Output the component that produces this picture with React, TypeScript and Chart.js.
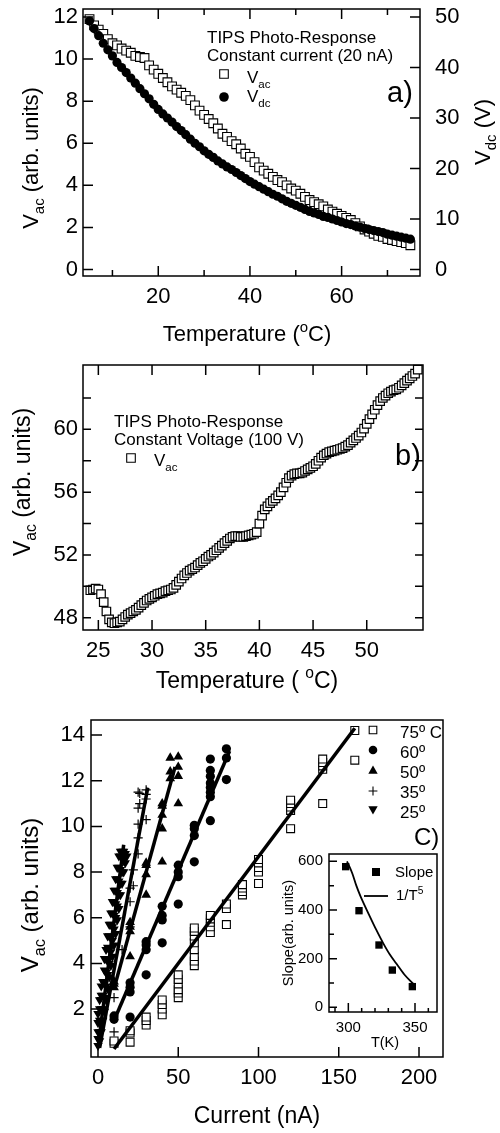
import React, { useEffect, useRef } from "react";
import { Chart, registerables } from "chart.js";

Chart.register(...registerables);

const FONT = "'Liberation Sans', Arial, Helvetica, sans-serif";
Chart.defaults.font.family = FONT;
Chart.defaults.color = "#000";

// ---------------- Panel a : constant current ----------------
const tempA = [5,6,7,8,9,10,11,12,13,14,15,16,17,18,19,20,21,22,23,24,25,26,27,28,29,30,31,32,33,34,35,36,37,38,39,40,41,42,43,44,45,46,47,48,49,50,51,52,53,54,55,56,57,58,59,60,61,62,63,64,65,66,67,68,69,70,71,72,73,74,75];
const vacA = [11.9,11.6,11.4,11.2,10.95,10.75,10.65,10.5,10.4,10.3,10.15,10.1,10.05,9.7,9.5,9.3,9.1,8.9,8.7,8.55,8.4,8.25,8.05,7.8,7.55,7.35,7.15,6.95,6.7,6.45,6.3,6.1,5.95,5.75,5.5,5.35,5.1,4.85,4.7,4.55,4.4,4.25,4.15,4.0,3.85,3.75,3.6,3.45,3.3,3.2,3.1,3.0,2.85,2.75,2.65,2.55,2.45,2.35,2.2,2.05,1.9,1.8,1.7,1.6,1.55,1.45,1.4,1.35,1.3,1.25,1.15];
const vdcA = [49.2,47.7,46.3,44.8,43.5,42.3,41.0,40.0,39.0,37.9,36.9,35.8,34.8,33.8,32.7,31.7,30.8,30.0,29.2,28.3,27.5,26.7,25.8,25.0,24.3,23.5,22.8,22.2,21.5,20.9,20.3,19.8,19.2,18.6,18.0,17.4,16.9,16.4,15.9,15.4,14.9,14.5,14.0,13.5,13.1,12.7,12.3,11.9,11.5,11.2,10.9,10.5,10.3,10.0,9.7,9.4,9.1,8.9,8.6,8.4,8.1,7.9,7.7,7.5,7.3,7.0,6.8,6.6,6.4,6.2,6.0];
const aXTicks = [20, 40, 60];
const aXMinor = [10, 30, 50, 70];
const aYTicks = [0, 2, 4, 6, 8, 10, 12];
const aY2Ticks = [0, 10, 20, 30, 40, 50];

// ---------------- Panel b : constant voltage ----------------
const tempB = [24.25,24.5,24.75,25,25.25,25.5,25.75,26,26.25,26.5,26.75,27,27.25,27.5,27.75,28,28.25,28.5,28.75,29,29.25,29.5,29.75,30,30.25,30.5,30.75,31,31.25,31.5,31.75,32,32.25,32.5,32.75,33,33.25,33.5,33.75,34,34.25,34.5,34.75,35,35.25,35.5,35.75,36,36.25,36.5,36.75,37,37.25,37.5,37.75,38,38.25,38.5,38.75,39,39.25,39.5,39.75,40,40.25,40.5,40.75,41,41.25,41.5,41.75,42,42.25,42.5,42.75,43,43.25,43.5,43.75,44,44.25,44.5,44.75,45,45.25,45.5,45.75,46,46.25,46.5,46.75,47,47.25,47.5,47.75,48,48.25,48.5,48.75,49,49.25,49.5,49.75,50,50.25,50.5,50.75,51,51.25,51.5,51.75,52,52.25,52.5,52.75,53,53.25,53.5,53.75,54,54.25,54.5,54.75];
const vacB = [49.75,49.8,49.85,49.8,49.5,49.0,48.4,47.9,47.7,47.65,47.7,47.75,47.9,48.05,48.2,48.3,48.4,48.5,48.65,48.8,48.95,49.1,49.2,49.3,49.4,49.5,49.55,49.6,49.7,49.75,49.8,49.9,50.1,50.3,50.5,50.7,50.85,51.0,51.1,51.2,51.35,51.5,51.6,51.75,51.9,52.0,52.15,52.3,52.45,52.6,52.75,52.9,53.05,53.15,53.2,53.2,53.15,53.15,53.2,53.25,53.3,53.35,53.45,54.0,54.5,54.9,55.1,55.3,55.45,55.6,55.8,56.0,56.3,56.6,56.9,57.05,57.15,57.2,57.2,57.25,57.35,57.45,57.55,57.65,57.8,58.0,58.2,58.35,58.45,58.55,58.6,58.65,58.7,58.75,58.8,58.9,59.0,59.15,59.3,59.45,59.6,59.8,60.05,60.35,60.65,60.95,61.25,61.55,61.8,62.0,62.15,62.3,62.4,62.5,62.55,62.65,62.8,62.95,63.1,63.25,63.4,63.55,63.8];
const bXTicks = [25, 30, 35, 40, 45, 50];
const bYTicks = [48, 52, 56, 60];
const bYMarks = [48, 50, 52, 54, 56, 58, 60, 62];

// ---------------- Panel c : V vs current ----------------
const c75I = [10,10,20,20,20,30,30,30,40,40,40,40,50,50,50,50,50,50,60,60,60,60,60,60,60,60,70,70,70,70,70,80,80,80,90,90,90,90,100,100,100,100,100,120,120,120,120,120,140,140,140,140,140,160,160];
const c75V = [0.5,0.6,0.55,0.95,1.05,1.3,1.5,1.65,1.75,2.0,2.2,2.4,2.5,2.7,2.85,3.1,3.3,3.5,3.9,4.1,4.3,4.6,4.9,5.2,5.4,5.55,5.35,5.6,5.8,5.95,6.1,5.7,6.4,6.6,7.0,7.15,7.3,7.45,7.5,8.0,8.2,8.4,8.55,9.9,10.7,10.85,11.0,11.15,11.0,12.5,12.65,12.8,12.95,12.9,14.2];
const c60I = [10,10,20,20,20,20,30,30,30,30,40,40,40,40,50,50,50,50,60,60,60,60,70,70,70,70,70,70,70,70,80,80,80];
const c60V = [1.55,1.7,1.65,2.75,2.95,3.15,3.5,4.6,4.8,4.95,4.9,5.9,6.1,6.5,6.6,7.8,8.0,8.3,8.45,9.6,9.9,10.05,10.25,11.3,11.5,11.7,11.9,12.2,12.45,12.95,12.05,13.0,13.4];
const c50I = [10,10,10,20,20,20,20,30,30,30,30,40,40,40,40,40,45,45,45,50,50,50,50];
const c50V = [2.95,3.1,3.2,4.3,5.4,5.6,5.8,7.0,7.9,8.3,8.4,8.45,9.9,10.5,10.9,11.0,12.1,12.4,13.0,11.0,12.2,12.6,13.05];
const c35I = [2,10,10,15,20,20,20,22,22,25,25,25,25,25,26,26,30,30,30,30];
const c35V = [2.5,1.0,2.5,4.6,5.6,6.7,7.3,7.4,8.1,8.8,9.5,10.1,10.8,11.5,11.0,11.45,10.3,11.2,11.4,11.6];
const c25I = [0,0,0,0,0,1,1,1,1,1,2,2,2,2,2,3,3,3,3,4,4,4,4,4,5,5,5,5,5,6,6,6,6,6,7,7,7,7,7,8,8,8,8,8,9,9,9,9,9,10,10,10,10,10,11,11,11,11,11,12,12,12,12,12,13,13,13,13,13,14,14,14,14,14,15,15,15,15,16,16,16,17,17,18];
const c25V = [0.4,0.7,1.0,1.4,1.8,0.6,1.0,1.5,2.0,2.4,1.0,1.5,2.0,2.6,3.0,1.5,2.0,2.6,3.2,1.9,2.5,3.1,3.7,4.2,2.4,3.0,3.6,4.2,4.6,2.9,3.5,4.1,4.7,5.2,3.4,4.0,4.6,5.2,5.7,3.9,4.5,5.1,5.7,6.2,4.3,5.0,5.6,6.2,6.7,4.8,5.5,6.1,6.7,7.2,5.3,6.0,6.6,7.2,7.7,5.9,6.5,7.1,7.7,8.2,6.4,7.0,7.6,8.2,8.7,7.0,7.5,8.1,8.7,8.9,7.5,8.0,8.6,8.9,8.0,8.5,8.9,8.4,8.8,8.7];
const fit75I = [10, 160];
const fit75V = [0.25, 14.3];
const fit60I = [10, 82];
const fit60V = [1.5, 13.3];
const fit50I = [10, 48];
const fit50V = [2.9, 12.6];
const fit35I = [1, 31];
const fit35V = [0.3, 11.7];
const fit25I = [0, 16];
const fit25V = [0.3, 9.2];
const cXTicks = [0, 50, 100, 150, 200];
const cYTicks = [2, 4, 6, 8, 10, 12, 14];
const cLegend = ["75º C", "60º", "50º", "35º", "25º"];

// ---------------- Inset ----------------
const insetT = [298, 308, 323, 333, 348];
const insetSlope = [578, 397, 256, 153, 85];
const curveT = [299, 303, 306, 309, 316, 321, 326, 331, 336, 342, 349];
const curveS = [600, 550, 500, 458, 375, 318, 265, 218, 180, 135, 95];
const iXTicks = [300, 350];
const iXMinor = [290, 310, 320, 330, 340, 360];
const iYTicks = [0, 200, 400, 600];
const iYMinor = [100, 300, 500];

// ---------------- helpers ----------------
const pts = (xs: number[], ys: number[]) => xs.map((x, i) => ({ x, y: ys[i] }));
const ROT = -Math.PI / 2;

type Seg = { t: string; m?: number };

function drawRich(ctx: any, it: any) {
  const { segs, x, y, size } = it;
  const align = it.align || "left";
  ctx.save();
  ctx.translate(x, y);
  if (it.rot) ctx.rotate(it.rot);
  ctx.fillStyle = "#000";
  ctx.textBaseline = "alphabetic";
  ctx.textAlign = "left";
  const parts = segs.map((s: Seg) => {
    const fs = s.m ? size * 0.68 : size;
    ctx.font = `${fs}px ${FONT}`;
    return { ...s, fs, w: ctx.measureText(s.t).width };
  });
  const total = parts.reduce((a: number, p: any) => a + p.w, 0);
  let cx = align === "center" ? -total / 2 : align === "right" ? -total : 0;
  for (const p of parts) {
    ctx.font = `${p.fs}px ${FONT}`;
    const dy = p.m === 1 ? size * 0.28 : p.m === 2 ? -size * 0.42 : 0;
    ctx.fillText(p.t, cx, dy);
    cx += p.w;
  }
  ctx.restore();
}

function drawSym(ctx: any, s: any) {
  const { kind, x, y, r } = s;
  ctx.save();
  ctx.strokeStyle = "#000";
  ctx.fillStyle = "#000";
  ctx.lineWidth = 1.1;
  ctx.beginPath();
  if (kind === "sqOpen") {
    ctx.fillStyle = "#fff";
    ctx.rect(x - r, y - r, 2 * r, 2 * r);
    ctx.fill();
    ctx.stroke();
  } else if (kind === "sqFill") {
    ctx.rect(x - r, y - r, 2 * r, 2 * r);
    ctx.fill();
  } else if (kind === "circle") {
    ctx.arc(x, y, r, 0, Math.PI * 2);
    ctx.fill();
  } else if (kind === "triUp") {
    ctx.moveTo(x, y - r);
    ctx.lineTo(x + 0.866 * r, y + 0.5 * r);
    ctx.lineTo(x - 0.866 * r, y + 0.5 * r);
    ctx.closePath();
    ctx.fill();
  } else if (kind === "triDown") {
    ctx.moveTo(x, y + r);
    ctx.lineTo(x + 0.866 * r, y - 0.5 * r);
    ctx.lineTo(x - 0.866 * r, y - 0.5 * r);
    ctx.closePath();
    ctx.fill();
  } else if (kind === "cross") {
    ctx.moveTo(x - r, y);
    ctx.lineTo(x + r, y);
    ctx.moveTo(x, y - r);
    ctx.lineTo(x, y + r);
    ctx.stroke();
  } else if (kind === "line") {
    ctx.lineWidth = 1.8;
    ctx.moveTo(x - r, y);
    ctx.lineTo(x + r, y);
    ctx.stroke();
  }
  ctx.restore();
}

function decor(opts: any) {
  return {
    id: "decor",
    beforeDraw(chart: any) {
      if (!opts.bg) return;
      const { ctx, chartArea: a } = chart;
      ctx.save();
      ctx.fillStyle = "#fff";
      ctx.fillRect(a.left, a.top, a.right - a.left, a.bottom - a.top);
      ctx.restore();
    },
    afterDatasetsDraw(chart: any) {
      const { ctx, chartArea: a } = chart;
      ctx.save();
      ctx.strokeStyle = "#000";
      ctx.lineWidth = opts.lw || 1.5;
      ctx.strokeRect(a.left, a.top, a.right - a.left, a.bottom - a.top);
      for (const t of opts.ticks) {
        const sc = chart.scales[t.scale];
        ctx.beginPath();
        for (const v of t.values) {
          const p = sc.getPixelForValue(v);
          if (t.side === "bottom") { ctx.moveTo(p, a.bottom); ctx.lineTo(p, a.bottom - t.len); }
          else if (t.side === "top") { ctx.moveTo(p, a.top); ctx.lineTo(p, a.top + t.len); }
          else if (t.side === "left") { ctx.moveTo(a.left, p); ctx.lineTo(a.left + t.len, p); }
          else { ctx.moveTo(a.right, p); ctx.lineTo(a.right - t.len, p); }
        }
        ctx.stroke();
      }
      ctx.restore();
    },
    afterDraw(chart: any) {
      const ctx = chart.ctx;
      for (const s of opts.syms || []) drawSym(ctx, s);
      for (const t of opts.texts || []) drawRich(ctx, t);
    },
  };
}

function axis(min: number, max: number, ticks: number[], font: number, padding: number, position: string, size: number) {
  const horizontal = position === "top" || position === "bottom";
  return {
    type: "linear",
    position,
    min,
    max,
    grid: { display: false, drawTicks: false },
    border: { display: false },
    ticks: { font: { family: FONT, size: font }, color: "#000", padding, autoSkip: false, maxRotation: 0, minRotation: 0 },
    afterBuildTicks: (s: any) => { s.ticks = ticks.map((v) => ({ value: v })); },
    afterFit: (s: any) => {
      if (horizontal) s.height = size; else s.width = size;
      s.paddingLeft = 0; s.paddingRight = 0; s.paddingTop = 0; s.paddingBottom = 0;
    },
  };
}

function baseOptions(pad: any, scales: any) {
  return {
    responsive: false,
    maintainAspectRatio: false,
    animation: false,
    events: [],
    layout: { padding: pad, autoPadding: false },
    plugins: { legend: { display: false }, tooltip: { enabled: false } },
    scales,
  };
}

const W = 500;
const H = 1133;

function configA(): any {
  const L = 83, R = 420, T = 9, B = 276;
  const yMin = -0.31, yMax = 12.38;
  return {
    type: "scatter",
    data: {
      datasets: [
        { data: pts(tempA, vdcA), yAxisID: "y2", pointStyle: "circle", pointRadius: 4.6, backgroundColor: "#000", borderColor: "#000", borderWidth: 0, clip: false },
        { data: pts(tempA, vacA), yAxisID: "y", pointStyle: "rect", pointRadius: 6.2, backgroundColor: "#fff", borderColor: "#000", borderWidth: 1.1, clip: false },
      ],
    },
    options: baseOptions({ top: T, left: 0, right: 0, bottom: 0 }, {
      x: axis(3.58, 77.1, aXTicks, 22, 7.3, "bottom", H - B),
      y: axis(yMin, yMax, aYTicks, 22, 5, "left", L),
      y2: axis(yMin * 50 / 12, yMax * 50 / 12, aY2Ticks, 22, 15, "right", W - R),
    }),
    plugins: [decor({
      ticks: [
        { scale: "x", side: "bottom", values: aXTicks, len: 10 },
        { scale: "x", side: "bottom", values: aXMinor, len: 6 },
        { scale: "x", side: "top", values: aXTicks, len: 10 },
        { scale: "x", side: "top", values: aXMinor, len: 6 },
        { scale: "y", side: "left", values: aYTicks, len: 10 },
        { scale: "y2", side: "right", values: aY2Ticks, len: 10 },
      ],
      syms: [
        { kind: "sqOpen", x: 224, y: 74, r: 4.3 },
        { kind: "circle", x: 224, y: 97, r: 4.8 },
      ],
      texts: [
        { segs: [{ t: "V" }, { t: "ac", m: 1 }, { t: " (arb. units)" }], x: 38, y: 158, size: 22, align: "center", rot: ROT },
        { segs: [{ t: "V" }, { t: "dc", m: 1 }, { t: " (V)" }], x: 490, y: 132, size: 22, align: "center", rot: ROT },
        { segs: [{ t: "Temperature (" }, { t: "o", m: 2 }, { t: "C)" }], x: 247, y: 341, size: 22, align: "center" },
        { segs: [{ t: "TIPS Photo-Response" }], x: 207, y: 43, size: 17 },
        { segs: [{ t: "Constant current (20 nA)" }], x: 207, y: 61, size: 17 },
        { segs: [{ t: "V" }, { t: "ac", m: 1 }], x: 247, y: 83, size: 17 },
        { segs: [{ t: "V" }, { t: "dc", m: 1 }], x: 247, y: 102, size: 17 },
        { segs: [{ t: "a)" }], x: 387, y: 102, size: 29 },
      ],
    })],
  };
}

function configB(): any {
  const L = 83, R = 423, T = 365, B = 630;
  return {
    type: "scatter",
    data: {
      datasets: [
        { data: pts(tempB, vacB), pointStyle: "rect", pointRadius: 6, backgroundColor: "#fff", borderColor: "#000", borderWidth: 1.2, clip: false },
      ],
    },
    options: baseOptions({ top: T, left: 0, right: W - R, bottom: 0 }, {
      x: axis(23.57, 55.24, bXTicks, 22, 7.3, "bottom", H - B),
      y: axis(47.22, 64.1, bYTicks, 22, 5, "left", L),
    }),
    plugins: [decor({
      ticks: [
        { scale: "x", side: "bottom", values: bXTicks, len: 10 },
        { scale: "x", side: "top", values: bXTicks, len: 10 },
        { scale: "y", side: "left", values: bYMarks, len: 8 },
        { scale: "y", side: "right", values: bYMarks, len: 8 },
      ],
      syms: [{ kind: "sqOpen", x: 131, y: 458, r: 4.3 }],
      texts: [
        { segs: [{ t: "V" }, { t: "ac", m: 1 }, { t: " (arb. units)" }], x: 30, y: 482, size: 23, align: "center", rot: ROT },
        { segs: [{ t: "Temperature ( " }, { t: "o", m: 2 }, { t: "C)" }], x: 247, y: 688, size: 23, align: "center" },
        { segs: [{ t: "TIPS Photo-Response" }], x: 114, y: 427, size: 17 },
        { segs: [{ t: "Constant Voltage (100 V)" }], x: 114, y: 445, size: 17 },
        { segs: [{ t: "V" }, { t: "ac", m: 1 }], x: 154, y: 466, size: 17 },
        { segs: [{ t: "b)" }], x: 395, y: 465, size: 29 },
      ],
    })],
  };
}

function configC(): any {
  const L = 91, R = 443, T = 720, B = 1057;
  const fit = (xs: number[], ys: number[]) => ({ type: "line", data: pts(xs, ys), showLine: true, borderColor: "#000", borderWidth: 3.5, pointRadius: 0, fill: false, clip: false });
  return {
    type: "scatter",
    data: {
      datasets: [
        fit(fit75I, fit75V),
        fit(fit60I, fit60V),
        fit(fit50I, fit50V),
        fit(fit35I, fit35V),
        fit(fit25I, fit25V),
        { data: pts(c25I, c25V), pointStyle: "triangle", pointRotation: 180, pointRadius: 5.4, backgroundColor: "#000", borderColor: "#000", borderWidth: 0, clip: false },
        { data: pts(c35I, c35V), pointStyle: "cross", pointRadius: 4.6, backgroundColor: "#000", borderColor: "#000", borderWidth: 1.2, clip: false },
        { data: pts(c50I, c50V), pointStyle: "triangle", pointRadius: 5.6, backgroundColor: "#000", borderColor: "#000", borderWidth: 0, clip: false },
        { data: pts(c60I, c60V), pointStyle: "circle", pointRadius: 4.6, backgroundColor: "#000", borderColor: "#000", borderWidth: 0, clip: false },
        { data: pts(c75I, c75V), pointStyle: "rect", pointRadius: 5.6, backgroundColor: "#fff", borderColor: "#000", borderWidth: 1.1, clip: false },
      ],
    },
    options: baseOptions({ top: T, left: 0, right: W - R, bottom: 0 }, {
      x: axis(-4.36, 214.95, cXTicks, 22, 7.3, "bottom", H - B),
      y: axis(-0.1, 14.66, cYTicks, 22, 6, "left", L),
    }),
    plugins: [decor({
      ticks: [
        { scale: "x", side: "bottom", values: cXTicks, len: 10 },
        { scale: "y", side: "left", values: cYTicks, len: 11 },
      ],
      syms: [
        { kind: "sqOpen", x: 373, y: 730, r: 3.8 },
        { kind: "circle", x: 373, y: 750, r: 4.3 },
        { kind: "triUp", x: 373, y: 771, r: 5.4 },
        { kind: "cross", x: 373, y: 791, r: 4.4 },
        { kind: "triDown", x: 373, y: 809, r: 5.4 },
      ],
      texts: [
        { segs: [{ t: "V" }, { t: "ac", m: 1 }, { t: " (arb. units)" }], x: 38, y: 895, size: 24, align: "center", rot: ROT },
        { segs: [{ t: "Current (nA)" }], x: 257, y: 1123, size: 23, align: "center" },
        { segs: [{ t: cLegend[0] }], x: 400, y: 738, size: 17 },
        { segs: [{ t: cLegend[1] }], x: 400, y: 758, size: 17 },
        { segs: [{ t: cLegend[2] }], x: 400, y: 778, size: 17 },
        { segs: [{ t: cLegend[3] }], x: 400, y: 798, size: 17 },
        { segs: [{ t: cLegend[4] }], x: 400, y: 818, size: 17 },
        { segs: [{ t: "C)" }], x: 414, y: 845, size: 24 },
      ],
    })],
  };
}

function configInset(): any {
  const L = 329, R = 437, T = 854, B = 1012;
  return {
    type: "scatter",
    data: {
      datasets: [
        { type: "line", data: pts(curveT, curveS), showLine: true, borderColor: "#000", borderWidth: 1.8, pointRadius: 0, fill: false, cubicInterpolationMode: "monotone", clip: false },
        { data: pts(insetT, insetSlope), pointStyle: "rect", pointRadius: 5.2, backgroundColor: "#000", borderColor: "#000", borderWidth: 0, clip: false },
      ],
    },
    options: baseOptions({ top: T, left: 0, right: W - R, bottom: 0 }, {
      x: axis(285.5, 366.5, iXTicks, 15, 7, "bottom", H - B),
      y: axis(-19.3, 630, iYTicks, 15, 6, "left", L),
    }),
    plugins: [decor({
      bg: true,
      lw: 1.5,
      ticks: [
        { scale: "x", side: "bottom", values: iXTicks, len: 9 },
        { scale: "x", side: "bottom", values: iXMinor, len: 4 },
        { scale: "y", side: "left", values: iYTicks, len: 8 },
        { scale: "y", side: "left", values: iYMinor, len: 5 },
      ],
      syms: [
        { kind: "sqFill", x: 376, y: 872, r: 4 },
        { kind: "line", x: 376, y: 896, r: 12 },
      ],
      texts: [
        { segs: [{ t: "Slope(arb. units)" }], x: 293, y: 933, size: 14.5, align: "center", rot: ROT },
        { segs: [{ t: "T(K)" }], x: 385, y: 1047, size: 14.5, align: "center" },
        { segs: [{ t: "Slope" }], x: 395, y: 877, size: 15 },
        { segs: [{ t: "1/T" }, { t: "5", m: 2 }], x: 396, y: 900, size: 15 },
      ],
    })],
  };
}

export default function App() {
  const ra = useRef<HTMLCanvasElement | null>(null);
  const rb = useRef<HTMLCanvasElement | null>(null);
  const rc = useRef<HTMLCanvasElement | null>(null);
  const ri = useRef<HTMLCanvasElement | null>(null);

  useEffect(() => {
    const charts = [
      new Chart(ra.current as any, configA()),
      new Chart(rb.current as any, configB()),
      new Chart(rc.current as any, configC()),
      new Chart(ri.current as any, configInset()),
    ];
    return () => charts.forEach((c) => c.destroy());
  }, []);

  const st: any = { position: "absolute", left: 0, top: 0, width: W, height: H };
  return (
    <div style={{ position: "absolute", left: 0, top: 0, width: W, height: H, background: "#fff", overflow: "hidden" }}>
      <canvas ref={ra} width={W} height={H} style={st} />
      <canvas ref={rb} width={W} height={H} style={st} />
      <canvas ref={rc} width={W} height={H} style={st} />
      <canvas ref={ri} width={W} height={H} style={st} />
    </div>
  );
}
